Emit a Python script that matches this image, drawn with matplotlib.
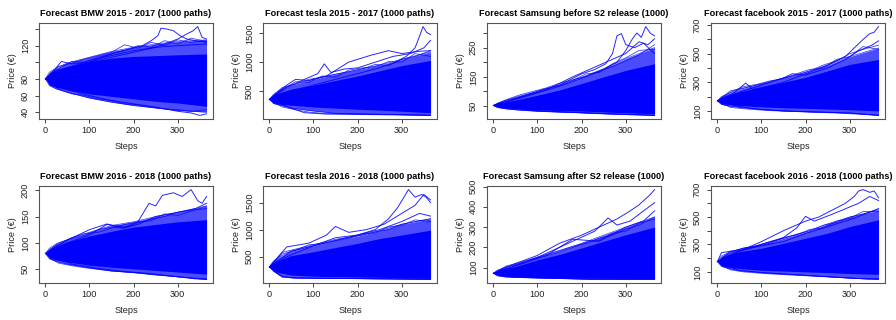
import matplotlib
matplotlib.use("Agg")
import matplotlib.pyplot as plt

plt.rcParams["font.family"] = ["Liberation Sans", "DejaVu Sans"]

BLUE = "#0000ff"
STEPS = [1, 10, 25, 50, 100, 150, 200, 250, 300, 365]
FRINGE_STEPS = [1, 30, 60, 90, 120, 150, 180, 210, 240, 270, 300, 330, 365]

titles = [
    "Forecast BMW 2015 - 2017 (1000 paths)",
    "Forecast tesla 2015 - 2017 (1000 paths)",
    "Forecast Samsung before S2 release (1000)",
    "Forecast facebook 2015 - 2017 (1000 paths)",
    "Forecast BMW 2016 - 2018 (1000 paths)",
    "Forecast tesla 2016 - 2018 (1000 paths)",
    "Forecast Samsung after S2 release (1000)",
    "Forecast facebook 2016 - 2018 (1000 paths)",
]

# dense band of paths (solid) and the looser band around it, read at STEPS
core_hi = [
    [80, 87, 91, 95, 101, 105, 107, 108, 109, 110],
    [350, 420, 470, 530, 600, 680, 760, 850, 940, 1030],
    [52, 58, 63, 70, 87, 105, 127, 150, 172, 195],
    [170, 195, 210, 232, 267, 300, 335, 380, 425, 460],
    [80, 88, 94, 102, 113, 122, 130, 135, 140, 144],
    [310, 390, 440, 520, 590, 670, 745, 835, 900, 990],
    [72, 85, 93, 105, 138, 165, 197, 230, 262, 300],
    [175, 205, 225, 247, 272, 308, 345, 382, 430, 480],
]
core_lo = [
    [80, 73, 70, 67, 62, 59, 56, 53, 51, 47],
    [350, 290, 270, 250, 220, 200, 180, 165, 145, 120],
    [52, 47, 44, 41, 37, 35, 33, 30, 27, 24],
    [170, 150, 145, 138, 128, 122, 118, 113, 108, 100],
    [80, 72, 68, 64, 58, 54, 51, 48, 45, 41],
    [310, 240, 200, 160, 140, 130, 125, 118, 112, 100],
    [72, 62, 58, 55, 52, 51, 50, 48, 47, 45],
    [175, 145, 135, 125, 112, 106, 100, 95, 88, 82],
]
outer_hi = [
    [80, 88, 93, 99, 106, 113, 118, 122, 125, 127],
    [350, 440, 520, 600, 700, 790, 870, 950, 1050, 1180],
    [52, 60, 68, 78, 98, 122, 148, 178, 212, 250],
    [170, 200, 220, 250, 290, 330, 370, 420, 480, 540],
    [80, 90, 98, 106, 120, 133, 140, 150, 158, 170],
    [310, 420, 500, 600, 700, 800, 880, 980, 1100, 1200],
    [72, 88, 98, 115, 150, 182, 220, 260, 300, 350],
    [175, 215, 240, 265, 300, 345, 390, 450, 500, 550],
]
outer_lo = [
    [80, 72, 68, 64, 57, 52, 48, 45, 42, 40],
    [350, 280, 250, 200, 150, 110, 100, 95, 85, 75],
    [52, 45, 42, 38, 33, 30, 27, 24, 22, 19],
    [170, 145, 135, 125, 110, 100, 95, 90, 85, 70],
    [80, 70, 65, 60, 53, 47, 44, 40, 36, 31],
    [310, 230, 150, 110, 105, 100, 95, 90, 85, 80],
    [72, 60, 55, 52, 49, 47, 44, 43, 42, 42],
    [175, 140, 125, 110, 95, 85, 75, 65, 55, 45],
]

# single paths running along the loose edges, read at FRINGE_STEPS
fringe_a = [
    [80, 95, 99, 104, 108, 112, 121, 117, 124, 120, 127, 124, 126],
    [350, 560, 620, 700, 740, 790, 830, 880, 960, 940, 1050, 1100, 1200],
    [52, 72, 88, 100, 112, 128, 140, 152, 170, 185, 205, 225, 260],
    [170, 240, 260, 280, 300, 330, 350, 380, 420, 450, 500, 530, 560],
    [80, 100, 108, 115, 125, 130, 128, 138, 145, 150, 158, 162, 165],
    [310, 580, 640, 700, 760, 820, 860, 900, 960, 1000, 1100, 1150, 1200],
    [72, 108, 125, 145, 165, 185, 205, 220, 245, 260, 290, 310, 350],
    [175, 250, 270, 290, 320, 345, 375, 400, 440, 460, 500, 520, 560],
]
fringe_b = [
    [80, 92, 101, 100, 106, 110, 114, 120, 118, 126, 122, 129, 125],
    [350, 520, 660, 650, 760, 740, 860, 900, 920, 1010, 1000, 1150, 1100],
    [52, 70, 84, 96, 110, 120, 138, 160, 165, 195, 215, 240, 245],
    [170, 230, 270, 285, 310, 325, 360, 390, 400, 460, 480, 550, 530],
    [80, 97, 110, 118, 120, 128, 135, 140, 142, 155, 152, 160, 170],
    [310, 550, 620, 720, 740, 790, 840, 920, 940, 1050, 1080, 1180, 1150],
    [72, 104, 120, 140, 158, 178, 200, 225, 235, 270, 280, 320, 340],
    [175, 240, 275, 285, 310, 350, 370, 410, 420, 470, 490, 540, 540],
]
fringe_lo = [
    [80, 68, 62, 60, 56, 54, 50, 49, 46, 44, 43, 41, 43],
    [350, 220, 170, 130, 110, 105, 100, 95, 92, 90, 85, 82, 78],
    [52, 40, 36, 33, 31, 29, 28, 26, 24, 23, 21, 20, 18],
    [170, 125, 115, 108, 102, 98, 95, 90, 88, 85, 80, 75, 68],
    [80, 62, 57, 53, 50, 47, 45, 43, 40, 38, 36, 34, 32],
    [310, 120, 105, 102, 100, 98, 96, 95, 92, 90, 88, 85, 82],
    [72, 54, 52, 50, 49, 48, 46, 45, 44, 44, 43, 43, 44],
    [175, 115, 100, 92, 85, 80, 75, 70, 65, 60, 55, 50, 48],
]

# stray paths that stick out of the band: (steps, prices)
stray = [
    [([1, 40, 80, 120, 160, 200, 220, 240, 255, 262, 275, 290, 305, 320, 340, 365],
      [80, 90, 96, 104, 112, 117, 120, 126, 132, 141, 140, 138, 132, 128, 126, 124]),
     ([1, 50, 100, 150, 200, 250, 280, 300, 320, 335, 345, 355, 365],
      [80, 93, 102, 108, 114, 118, 124, 128, 134, 138, 143, 130, 128]),
     ([1, 50, 100, 150, 200, 250, 300, 330, 350, 365],
      [80, 67, 60, 54, 50, 46, 41, 39, 36, 38]),
     ([1, 20, 37, 60, 100, 150, 200, 250, 300, 365],
      [80, 90, 101, 98, 100, 106, 112, 118, 120, 122])],
    [([1, 40, 80, 120, 160, 200, 240, 280, 310, 330, 340, 348, 356, 365],
      [350, 480, 560, 640, 720, 800, 880, 980, 1100, 1250, 1450, 1620, 1520, 1480]),
     ([1, 40, 80, 110, 125, 140, 170, 200, 240, 280, 320, 350, 365],
      [350, 560, 700, 800, 970, 820, 880, 900, 1000, 1100, 1150, 1250, 1380]),
     ([1, 50, 80, 130, 200, 250, 300, 365],
      [350, 200, 120, 95, 90, 85, 80, 72]),
     ([1, 40, 60, 90, 130, 180, 230, 270, 300, 340, 365],
      [350, 600, 700, 680, 760, 1000, 1120, 1200, 1150, 1190, 1200])],
    [([1, 50, 100, 150, 200, 230, 255, 270, 280, 290, 300, 320, 340, 365],
      [52, 75, 100, 122, 160, 175, 195, 230, 290, 298, 260, 250, 265, 230]),
     ([1, 50, 100, 150, 200, 250, 280, 300, 315, 325, 335, 345, 355, 365],
      [52, 72, 95, 118, 145, 175, 200, 240, 280, 300, 285, 322, 300, 290]),
     ([1, 60, 120, 180, 240, 300, 330, 350, 365],
      [52, 80, 105, 150, 190, 230, 270, 260, 280]),
     ([1, 100, 200, 280, 365],
      [52, 34, 28, 22, 18])],
    [([1, 40, 65, 80, 110, 150, 200, 250, 290, 310, 330, 345, 355, 365],
      [170, 230, 295, 250, 270, 300, 360, 420, 480, 540, 600, 640, 650, 690]),
     ([1, 50, 100, 150, 170, 200, 250, 290, 320, 350, 365],
      [170, 230, 280, 330, 360, 350, 400, 460, 520, 560, 590]),
     ([1, 50, 100, 150, 200, 250, 300, 340, 365],
      [170, 130, 110, 100, 95, 90, 85, 75, 68])],
    [([1, 50, 100, 140, 180, 210, 235, 250, 265, 290, 310, 330, 345, 355, 365],
      [80, 100, 115, 135, 130, 140, 175, 170, 190, 195, 188, 201, 180, 175, 188]),
     ([1, 50, 100, 140, 175, 210, 250, 300, 340, 365],
      [80, 105, 125, 136, 128, 135, 150, 158, 165, 175]),
     ([1, 60, 120, 180, 240, 300, 340, 365],
      [80, 60, 52, 46, 42, 36, 32, 31])],
    [([1, 40, 100, 150, 200, 240, 270, 290, 305, 315, 330, 345, 355, 365],
      [310, 500, 700, 800, 900, 1000, 1200, 1400, 1600, 1740, 1600, 1650, 1600, 1500]),
     ([1, 40, 90, 130, 150, 180, 220, 260, 300, 330, 350, 365],
      [310, 680, 750, 900, 1060, 950, 1000, 1100, 1300, 1450, 1650, 1550]),
     ([1, 50, 100, 150, 200, 250, 300, 340, 365],
      [310, 600, 700, 850, 900, 1000, 1150, 1300, 1250]),
     ([1, 30, 60, 120, 200, 300, 365],
      [310, 130, 105, 100, 95, 90, 85])],
    [([1, 50, 100, 150, 200, 240, 280, 310, 330, 345, 355, 365],
      [72, 120, 160, 220, 260, 300, 340, 380, 410, 440, 460, 485]),
     ([1, 50, 100, 150, 200, 230, 260, 280, 310, 340, 365],
      [72, 110, 150, 200, 250, 280, 345, 310, 330, 380, 420]),
     ([1, 60, 120, 180, 240, 300, 340, 365],
      [72, 115, 160, 240, 230, 300, 330, 380]),
     ([1, 100, 220, 300, 365],
      [72, 50, 42, 44, 45])],
    [([1, 50, 100, 150, 200, 230, 260, 290, 310, 320, 330, 345, 355, 365],
      [175, 250, 320, 400, 470, 500, 550, 600, 650, 690, 700, 680, 690, 640]),
     ([1, 40, 100, 150, 180, 200, 220, 260, 290, 320, 345, 365],
      [175, 240, 300, 350, 420, 505, 470, 520, 560, 600, 650, 620]),
     ([1, 10, 30, 60, 100, 150, 200, 250, 300, 365],
      [175, 240, 250, 260, 290, 320, 380, 430, 480, 560]),
     ([1, 50, 100, 150, 200, 250, 300, 340, 365],
      [175, 110, 95, 85, 75, 65, 55, 48, 50])],
]

yticks = [
    [40, 60, 80, 100, 120, 140],
    [500, 1000, 1500],
    [50, 100, 150, 200, 250, 300],
    [100, 200, 300, 400, 500, 600, 700],
    [50, 100, 150, 200],
    [500, 1000, 1500],
    [100, 200, 300, 400, 500],
    [100, 200, 300, 400, 500, 600, 700],
]
ytick_labels = [
    ["40", "60", "80", "", "120", ""],
    ["500", "1000", "1500"],
    ["50", "", "150", "", "250", ""],
    ["100", "", "300", "", "500", "", "700"],
    ["50", "100", "150", "200"],
    ["500", "1000", "1500"],
    ["100", "200", "300", "400", "500"],
    ["100", "", "300", "", "500", "", "700"],
]

col_left = [39, 263, 487, 711]
row_top = [23, 186]
row_height = [96, 97]
W, H = 896, 320
TXT = "#222222"

fig = plt.figure(figsize=(W / 100, H / 100), dpi=100)

for i in range(8):
    r, c = divmod(i, 4)
    ax = fig.add_axes([col_left[c] / W, 1 - (row_top[r] + row_height[r]) / H,
                       174 / W, row_height[r] / H])

    ax.fill_between(STEPS, outer_lo[i], outer_hi[i], color=BLUE, alpha=0.7, lw=0)
    ax.plot(STEPS, outer_hi[i], color=BLUE, lw=0.5, alpha=0.8)
    ax.plot(STEPS, outer_lo[i], color=BLUE, lw=0.5, alpha=0.8)
    ax.fill_between(STEPS, core_lo[i], core_hi[i], color=BLUE, lw=0)
    for ys in (fringe_a[i], fringe_b[i], fringe_lo[i]):
        ax.plot(FRINGE_STEPS, ys, color=BLUE, lw=0.6, alpha=0.75)
    for xs, ys in stray[i]:
        ax.plot(xs, ys, color=BLUE, lw=0.7, alpha=0.85)

    ax.margins(x=0.04, y=0.04)
    ax.set_xticks([0, 100, 200, 300])
    ax.set_yticks(yticks[i])
    ax.set_yticklabels(ytick_labels[i], rotation=90, va="center")
    ax.tick_params(direction="out", length=3, width=0.6, colors=TXT,
                   labelsize=6.6, pad=2)
    ax.tick_params(axis="y", pad=3.5)
    for s in ax.spines.values():
        s.set_color("#555555")
        s.set_linewidth(0.8)

    ax.set_title(titles[i], fontsize=6.6, fontweight="bold", pad=5)
    ax.set_xlabel("Steps", fontsize=6.6, labelpad=5, color=TXT)
    ax.set_ylabel("Price (€)", fontsize=6.6, labelpad=3, color=TXT)

fig.savefig("out.png", dpi=100)
